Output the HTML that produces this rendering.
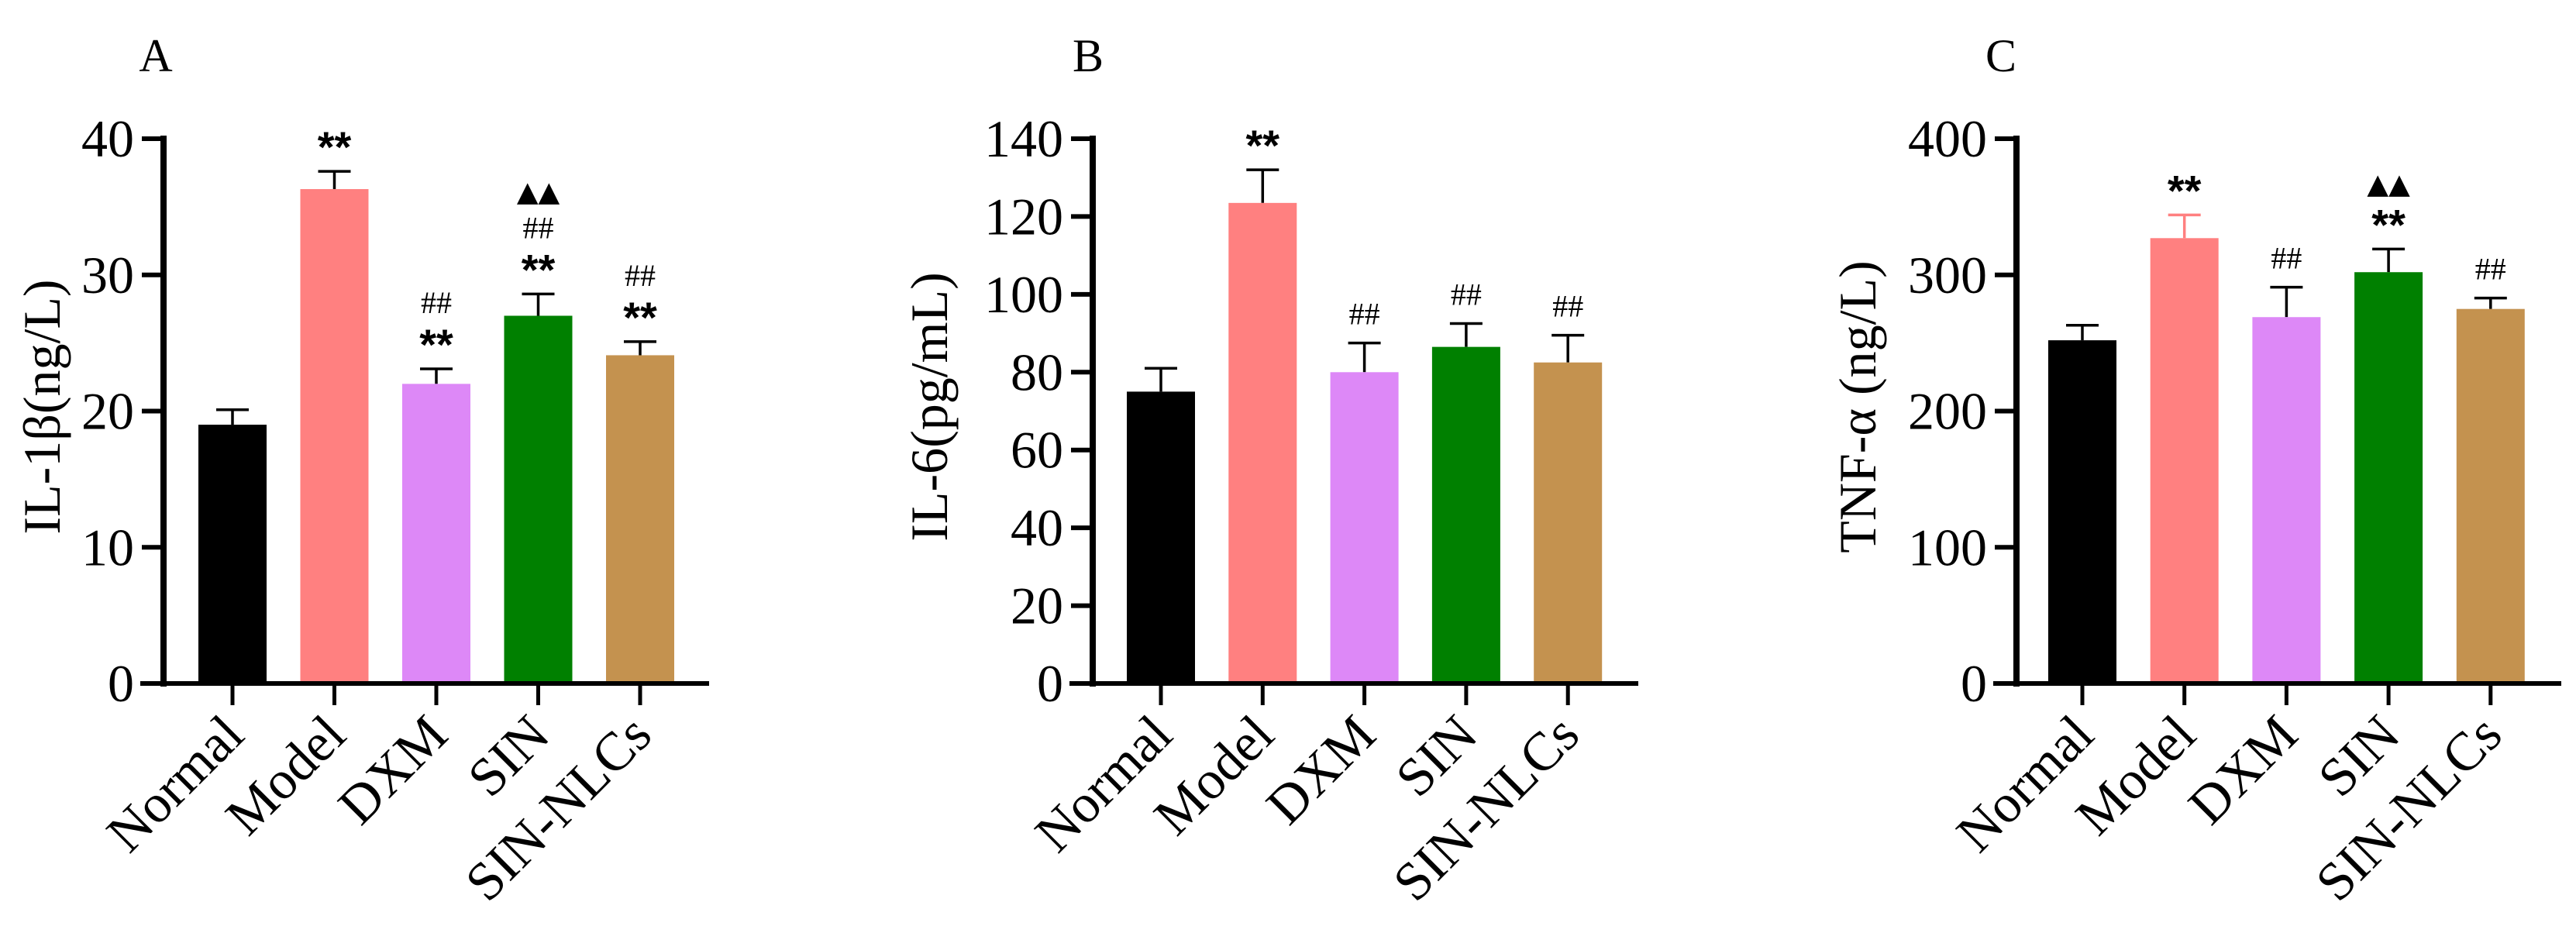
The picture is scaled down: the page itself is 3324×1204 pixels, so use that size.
<!DOCTYPE html>
<html><head><meta charset="utf-8"><style>
html,body{margin:0;padding:0;background:#fff;}
svg{display:block;font-family:"Liberation Serif",serif;}
</style></head><body>
<svg id="fig" width="3324" height="1204" viewBox="0 0 3324 1204" xmlns="http://www.w3.org/2000/svg"></svg>
<script>
const categories = ["Normal","Model","DXM","SIN","SIN-NLCs"];
const colors = ["#000000","#ff8080","#dd88f7","#008000","#c4924f"];
const valuesA = [19, 36.3, 22, 27, 24.1];
const errorsA = [1.1, 1.3, 1.1, 1.6, 1.0];
const valuesB = [75, 123.5, 80, 86.5, 82.5];
const errorsB = [6, 8.5, 7.5, 6, 7];
const valuesC = [252, 327, 269, 302, 275];
const errorsC = [11, 17, 22, 17, 8];
const ticksA = [0,10,20,30,40];
const ticksB = [0,20,40,60,80,100,120,140];
const ticksC = [0,100,200,300,400];
const marksA = [[],["**"],["**","##"],["**","##","▲▲"],["**","##"]];
const marksB = [[],["**"],["##"],["##"],["##"]];
const marksC = [[],["**"],["##"],["**","▲▲"],["##"]];

const NS="http://www.w3.org/2000/svg";
const svg=document.getElementById('fig');
function mk(tag,attrs,parent,text){const e=document.createElementNS(NS,tag);for(const k in attrs)e.setAttribute(k,attrs[k]);if(text!==undefined)e.textContent=text;(parent||svg).appendChild(e);return e;}

const panels=[
 {id:'a',letter:'A',lx:201,ax:211,xend:915,c0:300,step:131.5,vals:valuesA,errs:errorsA,ticks:ticksA,max:40,marks:marksA,title:'IL-1β(ng/L)',tx:55},
 {id:'b',letter:'B',lx:1404,ax:1410,xend:2114,c0:1498,step:131.3,vals:valuesB,errs:errorsB,ticks:ticksB,max:140,marks:marksB,title:'IL-6(pg/mL)',tx:1200},
 {id:'c',letter:'C',lx:2582,ax:2602,xend:3305,c0:2687,step:131.7,vals:valuesC,errs:errorsC,ticks:ticksC,max:400,marks:marksC,title:'TNF-α (ng/L)',tx:2398}
];
const yTop=179, yBase=882, bw=88;
panels.forEach(p=>{
  const g=mk('g',{});
  
  
  const y=v=>yBase-(v/p.max)*(yBase-yTop);
  const x=i=>p.c0+i*p.step;
  const L=mk('text',{x:p.lx,y:92,'font-size':60,'text-anchor':'middle'},g,p.letter);
  
  
  const T=mk('text',{x:0,y:0,'font-size':68,'text-anchor':'middle',transform:`translate(${p.tx+22},525) rotate(-90)`},g,p.title);
  
  
  p.vals.forEach((v,i)=>{
    const cx=x(i), yt=y(v), ye=y(v+p.errs[i]);
    const ec=(p.id==='c'&&i===1)?colors[1]:'#000';
    const e=mk('path',{d:`M${cx},${yt} V${ye} M${cx-21},${ye} H${cx+21}`,stroke:ec,'stroke-width':3.5,fill:'none'},g);
    
    
    const r=mk('rect',{x:cx-bw/2,y:yt,width:bw,height:yBase-yt,fill:colors[i]},g);
    
    
    p.marks[i].forEach((m,k)=>{
      const my=ye-38-k*48;
      let t;
      if(m==='**') t=mk('text',{x:cx,y:my+26,'font-size':56,'font-weight':'bold','text-anchor':'middle','font-family':'Liberation Sans, sans-serif'},g,m);
      else if(m==='##') t=mk('text',{x:cx,y:my+14,'font-size':40,'text-anchor':'middle'},g,m);
      else t=mk('text',{x:cx,y:my+14,'font-size':36,'text-anchor':'middle','font-family':'DejaVu Sans, sans-serif'},g,m);
      
      
    });
    const tk=mk('line',{x1:cx,y1:yBase,x2:cx,y2:910,stroke:'#000','stroke-width':5},g);
    
    
    const xl=mk('text',{x:0,y:0,'font-size':70,'text-anchor':'end',transform:`translate(${cx+18},${952}) rotate(-45)`},g,categories[i]);
    
    
  });
  const ya=mk('line',{x1:p.ax,y1:yTop-4,x2:p.ax,y2:yBase+4,stroke:'#000','stroke-width':8},g);
  
  
  const xa=mk('line',{x1:p.ax-30,y1:yBase,x2:p.xend,y2:yBase,stroke:'#000','stroke-width':6},g);
  
  
  p.ticks.forEach(t=>{
    const ty=y(t);
    const tl=mk('line',{x1:p.ax-28,y1:ty,x2:p.ax,y2:ty,stroke:'#000','stroke-width':6},g);
    
    
    const lb=mk('text',{x:p.ax-38,y:ty+23,'font-size':68,'text-anchor':'end'},g,String(t));
    
    
  });
});
</script>
</body></html>
